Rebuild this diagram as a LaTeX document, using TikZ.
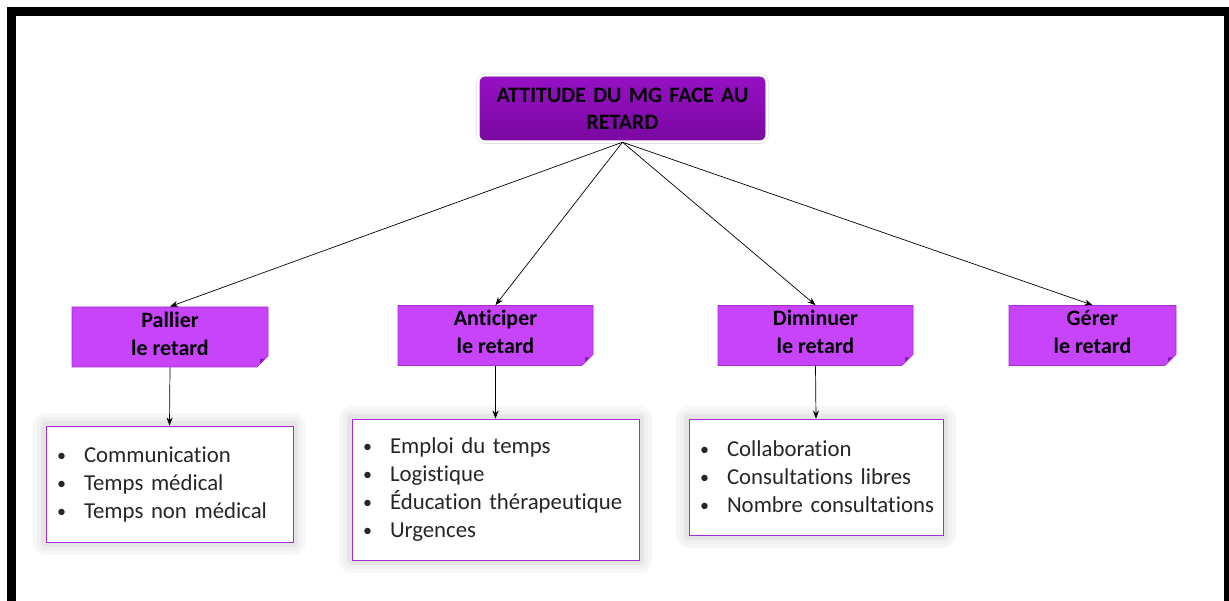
\documentclass[tikz,border=0pt]{standalone}
\usepackage{fontspec}
\setmainfont{Carlito}[Ligatures=NoCommon]
\usetikzlibrary{arrows.meta,shapes.misc}
\definecolor{violethaut}{RGB}{150,16,196}
\definecolor{violetbas}{RGB}{122,8,160}
\definecolor{violetclair}{RGB}{200,68,250}
\definecolor{violetbord}{RGB}{165,45,210}
\definecolor{violetpli}{RGB}{140,20,180}
\definecolor{gristexte}{RGB}{38,38,38}
\def\puce#1{\mbox{\makebox[24pt][l]{\hspace*{-3pt}\raisebox{1pt}{\fontsize{18}{18}\selectfont\textbullet}}#1}}
\def\violetnode{\node[etiquette]}
\def\listenode{\node[liste]}

\begin{document}
\begin{tikzpicture}[x=1pt,y=-1pt,
  titre/.style={rounded corners=7pt,top color=violethaut,bottom color=violetbas,
    draw=black!18,double=white,double distance=2.5pt,
    minimum width=289pt,minimum height=67pt,text width=280pt,align=center,
    font=\fontsize{22}{27}\selectfont\bfseries},
  etiquette/.style={chamfered rectangle,chamfered rectangle corners=south east,
    chamfered rectangle xsep=8pt,fill=violetclair,draw=violetbord,line width=0.8pt,
    minimum height=60pt,align=center,inner sep=0pt,text depth=7pt,
    font=\fontsize{22}{28}\selectfont\bfseries,
    path picture={\fill[violetpli]
      ([xshift=-8pt]path picture bounding box.south east) --
      ([yshift=8pt]path picture bounding box.south east) --
      ([xshift=-8pt,yshift=8pt]path picture bounding box.south east) -- cycle;}},
  liste/.style={fill=white,draw=violetbord,line width=0.8pt,inner xsep=14pt,
    align=left,text=gristexte,font=\fontsize{22.8}{28}\selectfont,
    preaction={draw=black!3,line width=26pt,line join=round},
    preaction={draw=black!6,line width=18pt,line join=round},
    preaction={draw=black!10,line width=10pt,line join=round}},
  fleche/.style={-{Stealth[length=8pt,width=6pt]},line width=0.7pt}]
\clip (0,0) rectangle (1229,601);
\fill[white] (0,0) rectangle (1229,601);
\draw[line width=9pt] (11.5,11.5) rectangle (1228.5,640);

\node[titre] (top) at (622.5,108.5) {ATTITUDE DU MG FACE AU\\RETARD};

\violetnode[minimum width=196pt] (pallier) at (170,337) {Pallier\\le retard};
\violetnode[minimum width=195pt] (anticiper) at (495.5,335.5) {Anticiper\\le retard};
\violetnode[minimum width=195pt] (diminuer) at (815.5,335.5) {Diminuer\\le retard};
\violetnode[minimum width=167pt] (gerer) at (1092.5,335.5) {Gérer\\le retard};

\listenode[text width=219pt,minimum height=116pt] (lpallier) at (169.5,484)
  {\puce{Communication}\\\puce{Temps médical}\\\puce{Temps non médical}};
\listenode[text width=259pt,minimum height=141pt] (lanticiper) at (495.5,489.5)
  {\puce{Emploi du temps}\\\puce{Logistique}\\\puce{Éducation thérapeutique}\\\puce{Urgences}};
\listenode[text width=226pt,minimum height=116pt] (ldiminuer) at (816,477)
  {\puce{Collaboration}\\\puce{Consultations libres}\\\puce{Nombre consultations}};

\draw[fleche] (top.south) -- (pallier.north);
\draw[fleche] (top.south) -- (anticiper.north);
\draw[fleche] (top.south) -- (diminuer.north);
\draw[fleche] (top.south) -- (gerer.north);
\draw[fleche] (pallier.south) -- (lpallier.north);
\draw[fleche] (anticiper.south) -- (lanticiper.north);
\draw[fleche] (diminuer.south) -- (ldiminuer.north);
\end{tikzpicture}
\end{document}
